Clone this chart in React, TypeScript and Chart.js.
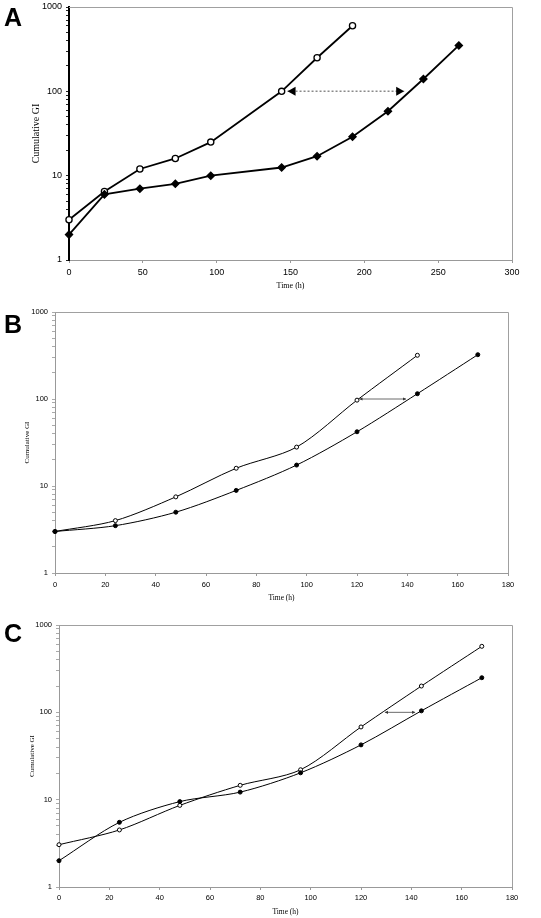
import React, { useEffect, useRef } from "react";
import { Chart, registerables } from "chart.js";

Chart.register(...registerables);

// ---------- DATA ----------
// Panel A
const hoursAOpen = [0, 24, 48, 72, 96, 144, 168, 192];
const giAOpen = [3, 6.5, 12, 16, 25, 100, 250, 600];
const hoursAFilled = [0, 24, 48, 72, 96, 144, 168, 192, 216, 240, 264];
const giAFilled = [2, 6, 7, 8, 10, 12.5, 17, 29, 58, 140, 350];
const arrowAX = [148, 227];
const arrowAY = [100, 100];

// Panel B
const hoursBOpen = [0, 24, 48, 72, 96, 120, 144];
const giBOpen = [3, 4, 7.5, 16, 28, 97, 318];
const hoursBFilled = [0, 24, 48, 72, 96, 120, 144, 168];
const giBFilled = [3, 3.5, 5, 8.9, 17.4, 42, 115, 323];
const arrowBX = [121, 139.5];
const arrowBY = [100, 100];

// Panel C
const hoursC = [0, 24, 48, 72, 96, 120, 144, 168];
const giCOpen = [3.05, 4.5, 8.6, 14.6, 22, 68, 200, 570];
const giCFilled = [2, 5.5, 9.5, 12.2, 20.3, 42.4, 104, 249];
const arrowCX = [129.5, 141.5];
const arrowCY = [100, 100];

// Axis ticks
const yTickValues = [1, 2, 3, 4, 5, 6, 7, 8, 9, 10, 20, 30, 40, 50, 60, 70, 80, 90, 100, 200, 300, 400, 500, 600, 700, 800, 900, 1000];
const yTickLabels = [1, 10, 100, 1000];
const xTitle = "Time (h)";
const yTitle = "Cumulative GI";

const SANS = "'Liberation Sans', Arial, sans-serif";
const SERIF = "'Liberation Serif', 'Times New Roman', serif";

type Panel = {
  letter: string;
  letterTop: number;
  top: number;
  height: number;
  padTop: number;
  padRight: number;
  yAxisW: number;
  xAxisH: number;
  xMax: number;
  xStep: number;
  tickSize: number;
  xTitleSize: number;
  yTitleSize: number;
  xTitlePad: number;
  yTitlePad: number;
  xTickPad: number;
  lineW: number;
  pointR: number;
  filledR: number;
  pointBorder: number;
  tension: number;
  leftAxisColor: string;
  leftAxisWidth: number;
  openX: number[];
  openY: number[];
  filledX: number[];
  filledY: number[];
  arrowX: number[];
  arrowY: number[];
  arrowDash: number[];
  arrowColor: string;
  arrowWidth: number;
  headL: number;
  headH: number;
  headColor: string;
};

const panels: Panel[] = [
  {
    letter: "A", letterTop: 5, top: 0, height: 300, padTop: 7, padRight: 29, yAxisW: 69, xAxisH: 40,
    xMax: 300, xStep: 50, tickSize: 9, xTitleSize: 8, yTitleSize: 10, xTitlePad: 9.2, yTitlePad: 30, xTickPad: 4,
    lineW: 1.8, pointR: 3.1, filledR: 3.6, pointBorder: 1.3, tension: 0, leftAxisColor: "#000", leftAxisWidth: 2,
    openX: hoursAOpen, openY: giAOpen, filledX: hoursAFilled, filledY: giAFilled,
    arrowX: arrowAX, arrowY: arrowAY, arrowDash: [2, 2], arrowColor: "#8a8a8a", arrowWidth: 1.5,
    headL: 8, headH: 4.5, headColor: "#000",
  },
  {
    letter: "B", letterTop: 312, top: 300, height: 310, padTop: 12, padRight: 33, yAxisW: 55, xAxisH: 37,
    xMax: 180, xStep: 20, tickSize: 7.5, xTitleSize: 7.5, yTitleSize: 7, xTitlePad: 7.5, yTitlePad: 22.8, xTickPad: 4,
    lineW: 1, pointR: 2, filledR: 2, pointBorder: 1, tension: 0.3, leftAxisColor: "#999", leftAxisWidth: 1,
    openX: hoursBOpen, openY: giBOpen, filledX: hoursBFilled, filledY: giBFilled,
    arrowX: arrowBX, arrowY: arrowBY, arrowDash: [], arrowColor: "#444", arrowWidth: 0.8,
    headL: 3, headH: 1.6, headColor: "#333",
  },
  {
    letter: "C", letterTop: 621, top: 610, height: 308, padTop: 15, padRight: 29, yAxisW: 59, xAxisH: 31,
    xMax: 180, xStep: 20, tickSize: 7.5, xTitleSize: 7.5, yTitleSize: 7, xTitlePad: 1.5, yTitlePad: 27.8, xTickPad: 3,
    lineW: 1, pointR: 2, filledR: 2, pointBorder: 1, tension: 0.3, leftAxisColor: "#999", leftAxisWidth: 1,
    openX: hoursC, openY: giCOpen, filledX: hoursC, filledY: giCFilled,
    arrowX: arrowCX, arrowY: arrowCY, arrowDash: [], arrowColor: "#444", arrowWidth: 0.8,
    headL: 3, headH: 1.6, headColor: "#333",
  },
];

const framePlugin = {
  id: "frame",
  beforeDatasetsDraw(chart: any) {
    const { ctx, chartArea } = chart;
    ctx.save();
    ctx.strokeStyle = "#a0a0a0";
    ctx.lineWidth = 1;
    ctx.beginPath();
    ctx.moveTo(chartArea.left, chartArea.top + 0.5);
    ctx.lineTo(chartArea.right + 0.5, chartArea.top + 0.5);
    ctx.lineTo(chartArea.right + 0.5, chartArea.bottom);
    ctx.stroke();
    ctx.restore();
  },
};

const arrowPlugin = {
  id: "arrowHeads",
  afterDatasetsDraw(chart: any, _args: any, opts: any) {
    const idx = chart.data.datasets.findIndex((d: any) => d.label === "arrow");
    if (idx < 0) return;
    const meta = chart.getDatasetMeta(idx);
    const p1 = meta.data[0];
    const p2 = meta.data[1];
    const { ctx } = chart;
    const L = opts.headL, H = opts.headH;
    ctx.save();
    ctx.fillStyle = opts.color;
    ctx.beginPath();
    ctx.moveTo(p1.x, p1.y);
    ctx.lineTo(p1.x + L, p1.y - H);
    ctx.lineTo(p1.x + L, p1.y + H);
    ctx.closePath();
    ctx.fill();
    ctx.beginPath();
    ctx.moveTo(p2.x, p2.y);
    ctx.lineTo(p2.x - L, p2.y - H);
    ctx.lineTo(p2.x - L, p2.y + H);
    ctx.closePath();
    ctx.fill();
    ctx.restore();
  },
};

function toPoints(xs: number[], ys: number[]) {
  return xs.map((x, i) => ({ x, y: ys[i] }));
}

function PanelChart({ p }: { p: Panel }) {
  const ref = useRef<HTMLCanvasElement>(null);
  useEffect(() => {
    const chart = new Chart(ref.current as HTMLCanvasElement, {
      type: "line",
      data: {
        datasets: [
          {
            label: "arrow",
            data: toPoints(p.arrowX, p.arrowY),
            borderColor: p.arrowColor,
            borderWidth: p.arrowWidth,
            borderDash: p.arrowDash,
            pointRadius: 0,
            tension: 0,
            clip: false,
          } as any,
          {
            label: "filled",
            data: toPoints(p.filledX, p.filledY),
            borderColor: "#000",
            borderWidth: p.lineW,
            pointStyle: p.letter === "A" ? "rectRot" : "circle",
            pointRadius: p.filledR,
            pointBackgroundColor: "#000",
            pointBorderColor: "#000",
            pointBorderWidth: p.pointBorder,
            tension: p.tension,
            clip: false,
          } as any,
          {
            label: "open",
            data: toPoints(p.openX, p.openY),
            borderColor: "#000",
            borderWidth: p.lineW,
            pointStyle: "circle",
            pointRadius: p.pointR,
            pointBackgroundColor: "#fff",
            pointBorderColor: "#000",
            pointBorderWidth: p.pointBorder,
            tension: p.tension,
            clip: false,
          } as any,
        ],
      },
      options: {
        animation: false,
        responsive: false,
        maintainAspectRatio: false,
        events: [],
        layout: { padding: { top: p.padTop, right: p.padRight, left: 0, bottom: 0 } },
        plugins: {
          legend: { display: false },
          tooltip: { enabled: false },
          arrowHeads: { headL: p.headL, headH: p.headH, color: p.headColor },
        } as any,
        scales: {
          x: {
            type: "linear",
            min: 0,
            max: p.xMax,
            afterFit: (s: any) => {
              s.height = p.xAxisH;
              s.paddingLeft = 0;
              s.paddingRight = 0;
            },
            ticks: {
              stepSize: p.xStep,
              color: "#000",
              padding: p.xTickPad,
              maxRotation: 0,
              autoSkip: false,
              font: { family: SANS, size: p.tickSize },
            },
            grid: { drawOnChartArea: false, drawTicks: true, tickLength: 3, color: "#999" },
            border: { display: true, color: "#999", width: 1 },
            title: {
              display: true,
              text: xTitle,
              color: "#000",
              font: { family: SERIF, size: p.xTitleSize },
              padding: { top: 0, bottom: p.xTitlePad },
            },
          },
          y: {
            type: "logarithmic",
            min: 1,
            max: 1000,
            afterFit: (s: any) => {
              s.width = p.yAxisW;
              s.paddingTop = 0;
              s.paddingBottom = 0;
            },
            afterBuildTicks: (s: any) => {
              s.ticks = yTickValues.map((v) => ({ value: v, major: yTickLabels.includes(v) }));
            },
            ticks: {
              color: "#000",
              padding: 4,
              autoSkip: false,
              font: { family: SANS, size: p.tickSize },
              callback: (v: any) => (yTickLabels.includes(Number(v)) ? String(v) : ""),
            },
            grid: {
              drawOnChartArea: false,
              drawTicks: true,
              tickLength: 3,
              color: p.leftAxisColor === "#000" ? "#222" : "#aaa",
            },
            border: { display: true, color: p.leftAxisColor, width: p.leftAxisWidth },
            title: {
              display: true,
              text: yTitle,
              color: "#000",
              font: { family: SERIF, size: p.yTitleSize },
              padding: { top: p.yTitlePad, bottom: 0 },
            },
          },
        },
      } as any,
      plugins: [framePlugin, arrowPlugin],
    });
    return () => chart.destroy();
  }, [p]);

  return (
    <canvas
      ref={ref}
      width={541}
      height={p.height}
      style={{ position: "absolute", left: 0, top: p.top, width: 541, height: p.height }}
    />
  );
}

export default function App() {
  return (
    <div style={{ position: "absolute", left: 0, top: 0, width: 541, height: 918, background: "#fff", overflow: "hidden" }}>
      {panels.map((p) => (
        <React.Fragment key={p.letter}>
          <PanelChart p={p} />
          <div
            style={{
              position: "absolute",
              left: 4,
              top: p.letterTop,
              fontFamily: SANS,
              fontWeight: "bold",
              fontSize: 25,
              lineHeight: "25px",
              color: "#000",
            }}
          >
            {p.letter}
          </div>
        </React.Fragment>
      ))}
    </div>
  );
}
